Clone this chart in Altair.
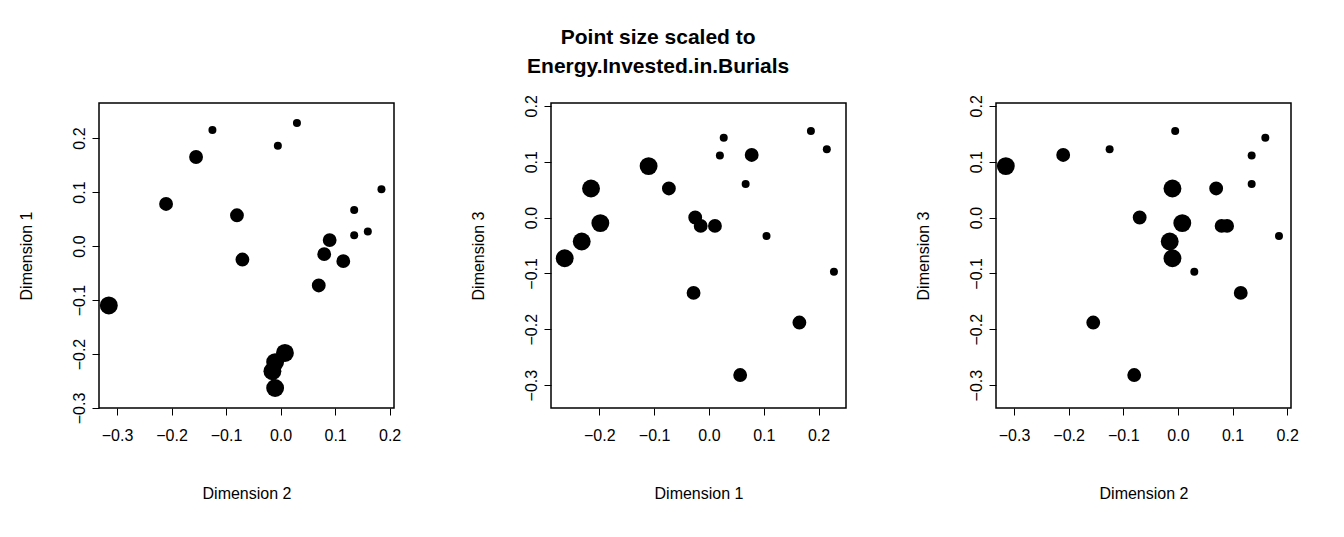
import pandas as pd
import altair as alt

dim1 = [-0.110, 0.078, 0.165, 0.215, 0.057, -0.025, 0.186, 0.228, 0.105, 0.067,
        0.020, 0.027, 0.011, -0.015, -0.028, -0.073, -0.198, -0.215, -0.232, -0.263]
dim2 = [-0.315, -0.210, -0.155, -0.125, -0.080, -0.070, -0.005, 0.030, 0.185, 0.135,
        0.135, 0.160, 0.090, 0.080, 0.115, 0.070, 0.008, -0.010, -0.015, -0.010]
dim3 = [0.092, 0.112, -0.188, 0.122, -0.282, 0.000, 0.155, -0.097, -0.033, 0.060,
        0.111, 0.143, -0.015, -0.015, -0.135, 0.052, -0.010, 0.052, -0.043, -0.073]
energy = [3, 2, 2, 1, 2, 2, 1, 1, 1, 1, 1, 1, 2, 2, 2, 2, 3, 3, 3, 3]

df = pd.DataFrame({"d1": dim1, "d2": dim2, "d3": dim3, "e": energy})

FONT = "Liberation Sans"


def xaxis(title, vals):
    return alt.Axis(title=title, values=vals, format=".1f", grid=False, domain=False,
                    tickColor="black", tickSize=7, tickWidth=1,
                    labelFont=FONT, labelFontSize=16, labelColor="black", labelPadding=12,
                    titleFont=FONT, titleFontSize=16, titleFontWeight="normal",
                    titleColor="black", titlePadding=42, labelFlush=False)


def yaxis(title, vals):
    return alt.Axis(title=title, values=vals, format=".1f", grid=False, domain=False,
                    tickColor="black", tickSize=7, labelAngle=-90, labelAlign="center",
                    labelBaseline="bottom", labelFont=FONT, labelFontSize=16,
                    labelColor="black", labelPadding=5, titleFont=FONT, titleFontSize=16,
                    titleFontWeight="normal", titleColor="black", titlePadding=37,
                    labelFlush=False)


def panel(xc, xt, xdom, xv, yc, yt, ydom, yv):
    return alt.Chart(df).mark_circle(color="black", opacity=1).encode(
        x=alt.X(xc, scale=alt.Scale(domain=xdom, nice=False, zero=False), axis=xaxis(xt, xv)),
        y=alt.Y(yc, scale=alt.Scale(domain=ydom, nice=False, zero=False), axis=yaxis(yt, yv)),
        size=alt.Size("e", scale=alt.Scale(domain=[1, 3], range=[64, 320]), legend=None),
    ).properties(width=295, height=305)


ticks_a = [-0.3, -0.2, -0.1, 0.0, 0.1, 0.2]
ticks_b = [-0.2, -0.1, 0.0, 0.1, 0.2]

p1 = panel("d2", "Dimension 2", [-0.333, 0.208], ticks_a,
           "d1", "Dimension 1", [-0.3, 0.265], ticks_a)
p2 = panel("d1", "Dimension 1", [-0.288, 0.25], ticks_b,
           "d3", "Dimension 3", [-0.341, 0.205], ticks_a)
p3 = panel("d2", "Dimension 2", [-0.333, 0.207], ticks_a,
           "d3", "Dimension 3", [-0.341, 0.205], ticks_a)

chart = alt.hconcat(p1, p2, p3, spacing=67).properties(
    title=alt.TitleParams(["Point size scaled to", "Energy.Invested.in.Burials"],
                          font=FONT, fontSize=21, fontWeight="bold", color="black",
                          anchor="middle", lineHeight=29, offset=17),
    padding={"left": 9, "top": 18, "right": 0, "bottom": 0},
).configure(background="white", view=alt.ViewConfig(stroke="black", strokeWidth=1.5))

chart.save("out.html", embed_options={"renderer": "svg", "actions": False})
